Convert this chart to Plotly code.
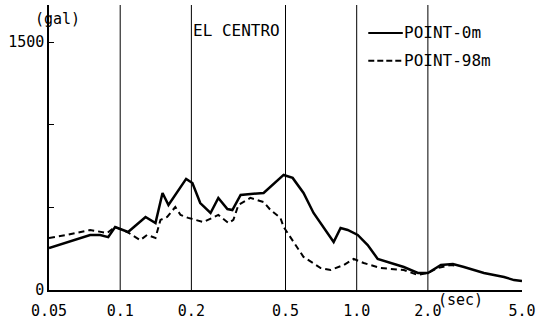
import math
import plotly.graph_objects as go

# Period (sec) and spectral acceleration (gal)
t_0m = [0.05, 0.0596, 0.0746, 0.0823, 0.089, 0.0952, 0.108, 0.128, 0.141, 0.151, 0.160,
        0.190, 0.202, 0.218, 0.241, 0.260, 0.284, 0.298, 0.323, 0.404, 0.432, 0.491,
        0.536, 0.596, 0.657, 0.799, 0.855, 0.916, 1.01, 1.113, 1.227, 1.582, 1.814,
        2.0, 2.27, 2.552, 2.841, 3.452, 4.197, 4.627, 5.0]
a_0m = [254, 290, 333, 333, 320, 381, 351, 442, 405, 587, 514,
        672, 647, 526, 466, 557, 490, 484, 575, 587, 623, 696,
        678, 587, 466, 290, 375, 363, 333, 272, 188, 139, 103,
        103, 151, 157, 139, 103, 79, 60, 54]

t_98m = [0.05, 0.0596, 0.0746, 0.0881, 0.0952, 0.107, 0.1215, 0.130, 0.141, 0.148, 0.158,
         0.171, 0.180, 0.194, 0.225, 0.260, 0.287, 0.301, 0.316, 0.355, 0.404, 0.432,
         0.476, 0.491, 0.596, 0.704, 0.776, 0.881, 0.971, 1.071, 1.264, 1.582, 1.814,
         2.0, 2.204, 2.503, 2.679]
a_98m = [315, 333, 363, 345, 381, 351, 302, 333, 315, 424, 442,
         502, 454, 436, 411, 454, 405, 424, 514, 557, 532, 484,
         436, 381, 200, 133, 121, 151, 188, 163, 133, 121, 91,
         103, 133, 151, 145]

x_tick_vals = [0.05, 0.1, 0.2, 0.5, 1.0, 2.0, 5.0]
x_tick_text = ["0.05", "0.1", "0.2", "0.5", "1.0", "2.0", "5.0"]
grid_periods = [0.1, 0.2, 0.5, 1.0, 2.0]
y_tick_vals = [0, 500, 1000, 1500]
y_tick_text = ["0", "", "", "1500"]

FONT = "DejaVu Sans Mono"

fig = go.Figure()
fig.add_trace(go.Scatter(x=t_0m, y=a_0m, mode="lines", name="POINT-0m",
                         line=dict(color="black", width=2.5), showlegend=False))
fig.add_trace(go.Scatter(x=t_98m, y=a_98m, mode="lines", name="POINT-98m",
                         line=dict(color="black", width=2, dash="6px,4px"), showlegend=False))

for p in grid_periods:
    fig.add_shape(type="line", x0=p, x1=p, y0=0, y1=1, xref="x", yref="paper",
                  line=dict(color="black", width=1), layer="below")

# legend samples
fig.add_shape(type="line", x0=0.675, x1=0.748, y0=0.902, y1=0.902, xref="paper", yref="paper",
              line=dict(color="black", width=2))
fig.add_shape(type="line", x0=0.675, x1=0.748, y0=0.804, y1=0.804, xref="paper", yref="paper",
              line=dict(color="black", width=2, dash="6px,3px"))
fig.add_annotation(x=0.746, y=0.902, xref="paper", yref="paper", text="POINT-0m",
                   showarrow=False, xanchor="left", yanchor="middle",
                   font=dict(family=FONT, size=16, color="black"))
fig.add_annotation(x=0.746, y=0.804, xref="paper", yref="paper", text="POINT-98m",
                   showarrow=False, xanchor="left", yanchor="middle",
                   font=dict(family=FONT, size=16, color="black"))

fig.add_annotation(x=math.log10(0.2), y=0.909, xref="x", yref="paper", text="EL CENTRO",
                   showarrow=False, xanchor="left", yanchor="middle", xshift=0,
                   font=dict(family=FONT, size=16, color="black"))
fig.add_annotation(x=math.log10(0.05), y=1.0, xref="x", yref="paper", text="(gal)",
                   showarrow=False, xanchor="center", yanchor="top", xshift=8, yshift=-3,
                   font=dict(family=FONT, size=15, color="black"))
fig.add_annotation(x=math.log10(2.0), y=0, xref="x", yref="paper", text="(sec)",
                   showarrow=False, xanchor="left", yanchor="top", xshift=8, yshift=1,
                   font=dict(family=FONT, size=15, color="black"))

fig.update_xaxes(type="log", range=[-1.30103, 0.69897], tickvals=x_tick_vals,
                 ticktext=x_tick_text, showgrid=False, zeroline=False,
                 showline=True, linecolor="black", linewidth=1.5, ticks="",
                 ticklabelstandoff=6,
                 tickfont=dict(family=FONT, size=15, color="black"))
fig.update_yaxes(range=[0, 1724], tickvals=y_tick_vals, ticktext=y_tick_text,
                 showgrid=False, zeroline=False, showline=True, linecolor="black",
                 linewidth=1.5, ticks="inside", ticklen=5, tickcolor="black",
                 tickfont=dict(family=FONT, size=15, color="black"))

fig.update_layout(width=550, height=324, margin=dict(l=49, r=28, t=5, b=34),
                  plot_bgcolor="white", paper_bgcolor="white")

fig.write_html("out.html")
